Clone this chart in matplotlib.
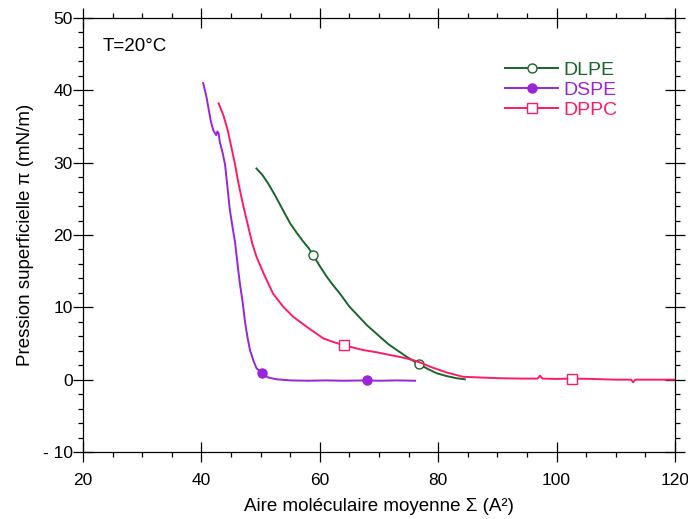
import matplotlib
matplotlib.use("Agg")
import matplotlib.pyplot as plt
from matplotlib.lines import Line2D
from matplotlib.ticker import MultipleLocator

plt.rcParams['font.family'] = ['Liberation Sans', 'DejaVu Sans']

# DLPE isotherm
dlpe_x = [49.3, 50.3, 51.3, 52.5, 53.8, 55.0, 56.1, 57.2, 58.1, 58.9, 60.0, 61.2, 62.3,
          63.4, 65.0, 66.5, 68.0, 70.2, 71.6, 73.0, 74.8, 76.6, 78.2, 79.7, 81.4, 83.1, 84.5]
dlpe_y = [29.2, 28.3, 27.1, 25.4, 23.4, 21.6, 20.3, 19.1, 18.2, 17.2, 15.7, 14.2, 13.0,
          11.9, 10.1, 8.8, 7.5, 5.9, 4.9, 4.1, 3.1, 2.2, 1.5, 0.9, 0.5, 0.2, 0.05]
dlpe_mx = [58.9, 76.8]
dlpe_my = [17.2, 2.1]

# DSPE isotherm
dspe_x = [40.3, 40.6, 40.9, 41.2, 41.6, 42.0, 42.5, 42.7, 42.9, 43.1, 43.6, 44.0, 44.3,
          44.8, 45.2, 45.7, 46.1, 46.5, 47.0, 47.4, 47.8, 48.2, 48.8, 49.3, 50.2, 51.3,
          52.7, 55.0, 58.0, 61.0, 64.0, 67.9, 70.0, 73.0, 76.1]
dspe_y = [41.0, 40.0, 38.9, 37.5, 35.7, 34.5, 33.8, 34.3, 34.1, 32.9, 31.3, 29.7, 27.4,
          23.5, 21.4, 18.9, 16.0, 13.3, 10.5, 7.8, 5.8, 4.1, 2.6, 1.6, 0.9, 0.3,
          0.05, -0.1, -0.15, -0.1, -0.15, -0.1, -0.15, -0.1, -0.15]
dspe_mx = [50.2, 67.9]
dspe_my = [0.9, -0.1]

# DPPC isotherm
dppc_x = [42.9, 43.7, 44.5, 45.1, 45.7, 46.2, 47.0, 47.9, 48.6, 49.3, 50.5, 52.1, 53.8,
          55.5, 57.8, 60.6, 62.3, 64.1, 67.3, 69.5, 71.9, 73.8, 75.8, 77.2, 78.6,
          80.0, 81.4, 82.8, 84.2, 87.0, 90.4, 94.0, 96.8, 97.2, 97.6, 100.0, 102.6, 106.0,
          110.0, 112.6, 112.9, 113.3, 116.0, 120.0]
dppc_y = [38.2, 36.6, 34.3, 32.0, 29.7, 27.4, 24.3, 21.2, 18.8, 17.0, 14.7, 11.9, 10.1,
          8.7, 7.3, 5.7, 5.2, 4.75, 4.1, 3.8, 3.4, 3.1, 2.7, 2.3, 1.8,
          1.4, 1.0, 0.7, 0.4, 0.3, 0.2, 0.15, 0.15, 0.55, 0.15, 0.1, 0.15, 0.1,
          0.0, 0.0, -0.35, 0.0, 0.0, 0.0]
dppc_mx = [64.1, 102.6]
dppc_my = [4.75, 0.15]

x_ticks = [20, 40, 60, 80, 100, 120]
y_ticks = [-10, 0, 10, 20, 30, 40, 50]
y_ticklabels = ['- 10', '0', '10', '20', '30', '40', '50']

c_dlpe = '#17662a'
c_dspe = '#9a24d8'
c_dppc = '#ff1a66'

fig = plt.figure(figsize=(6.88, 5.19), dpi=100)
ax = fig.add_axes([83/688, 67/519, (675-83)/688, (452-18)/519])

lw = 1.4
ax.plot(dlpe_x, dlpe_y, color=c_dlpe, lw=lw)
ax.plot(dlpe_mx, dlpe_my, ls='none', marker='o', ms=6.5, mfc='white', mec=c_dlpe, mew=1.0)
ax.plot(dspe_x, dspe_y, color=c_dspe, lw=lw)
ax.plot(dspe_mx, dspe_my, ls='none', marker='o', ms=6.5, mfc=c_dspe, mec=c_dspe, mew=1.0)
ax.plot(dppc_x, dppc_y, color=c_dppc, lw=lw)
ax.plot(dppc_mx, dppc_my, ls='none', marker='s', ms=7.5, mfc='white', mec=c_dppc, mew=1.0)

ax.set_xlim(20, 120)
ax.set_ylim(-10, 50)
ax.set_xticks(x_ticks)
ax.set_yticks(y_ticks)
ax.set_yticklabels(y_ticklabels)
ax.xaxis.set_minor_locator(MultipleLocator(5))
ax.yaxis.set_minor_locator(MultipleLocator(2))
ax.tick_params(which='major', direction='inout', length=14, width=0.9,
               top=True, right=True, labelsize=12.5)
ax.tick_params(axis='x', which='major', pad=8)
ax.tick_params(axis='y', which='major', pad=0.5)
ax.tick_params(which='minor', direction='out', length=3.5, width=0.9, top=True, right=True)
for s in ax.spines.values():
    s.set_linewidth(0.9)

ax.set_xlabel('Aire moléculaire moyenne Σ (A²)', fontsize=13.5, labelpad=7)
ax.set_ylabel('Pression superficielle π (mN/m)', fontsize=13.5, labelpad=6)

ax.text((103-83)/592, (452-51)/434, 'T=20°C', transform=ax.transAxes, fontsize=13.5,
        va='baseline', ha='left')

handles = [
    Line2D([], [], color=c_dlpe, lw=lw, marker='o', ms=6.5, mfc='white', mec=c_dlpe),
    Line2D([], [], color=c_dspe, lw=lw, marker='o', ms=6.5, mfc=c_dspe, mec=c_dspe),
    Line2D([], [], color=c_dppc, lw=lw, marker='s', ms=7.5, mfc='white', mec=c_dppc),
]
ax.legend(handles, ['DLPE', 'DSPE', 'DPPC'], loc='upper left',
          bbox_to_anchor=((505-83)/592, (452-61)/434),
          frameon=False, fontsize=14, handlelength=2.75, labelcolor='linecolor',
          handletextpad=0.25, labelspacing=0.12, borderaxespad=0, borderpad=0)

fig.savefig('out.png', dpi=100)
